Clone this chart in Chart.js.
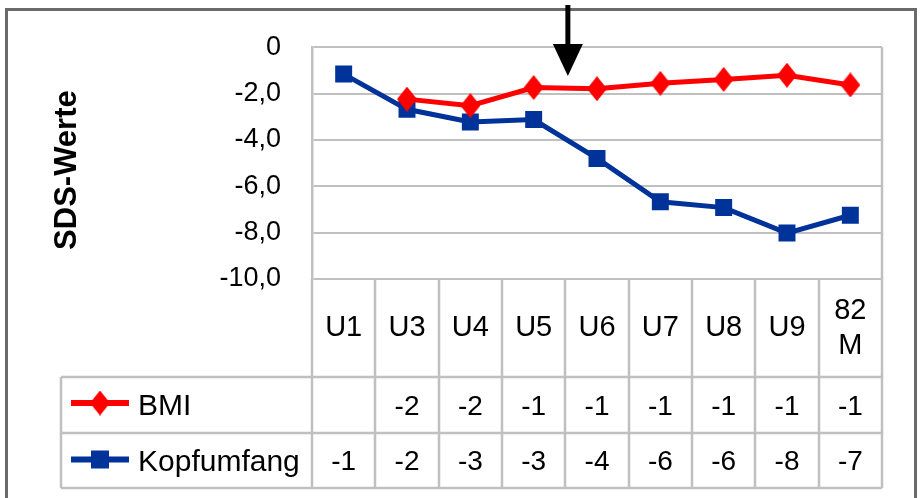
<!DOCTYPE html>
<html>
<head>
<meta charset="utf-8">
<script src="https://cdn.jsdelivr.net/npm/chart.js@4"></script>
<style>
  html, body { margin: 0; padding: 0; background: #fff; }
  canvas { display: block; }
</style>
</head>
<body>
<canvas id="chart" width="921" height="498"></canvas>
<script>
// data
const labels = ['U1', 'U3', 'U4', 'U5', 'U6', 'U7', 'U8', 'U9', ['82', 'M']];
const bmi  = [null, -2.24, -2.52, -1.74, -1.79, -1.56, -1.39, -1.21, -1.63];
const kopf = [-1.16, -2.68, -3.23, -3.12, -4.8, -6.67, -6.92, -8.02, -7.25];
// values as printed in the data table under the plot
const bmiTable  = ['', '-2', '-2', '-1', '-1', '-1', '-1', '-1', '-1'];
const kopfTable = ['-1', '-2', '-3', '-3', '-4', '-6', '-6', '-8', '-7'];
const seriesNames = ['BMI', 'Kopfumfang'];
const yTitle = 'SDS-Werte';
const yMin = -10, yMax = 0, yStep = 2;
// arrow annotation: category position (between U5 and U6) and value of its tip
const arrowAt = { x: 3.54, y: -1.5 };

const FONT = '"Liberation Sans", Arial, sans-serif';
const RED = '#ff0000';
const BLUE = '#003399';
const GRID = '#c0c0c0';

// red diamond, a bit taller than wide
function diamond(w, h, color) {
  const c = document.createElement('canvas');
  c.width = w; c.height = h;
  const g = c.getContext('2d');
  g.fillStyle = color;
  g.beginPath();
  g.moveTo(w / 2, 0);
  g.lineTo(w, h / 2);
  g.lineTo(w / 2, h);
  g.lineTo(0, h / 2);
  g.closePath();
  g.fill();
  return c;
}
const bmiMarker = diamond(20, 25, RED);

// grey frame round the whole thing
const framePlugin = {
  id: 'frame',
  beforeDraw(chart) {
    const ctx = chart.ctx;
    ctx.save();
    ctx.fillStyle = '#fff';
    ctx.fillRect(0, 0, chart.width, chart.height);
    ctx.strokeStyle = '#6a6a6a';
    ctx.lineWidth = 3;
    ctx.strokeRect(6.5, 9.5, 909, 600);
    ctx.restore();
  }
};

// axis title, sits a bit lower than the plot centre
const titlePlugin = {
  id: 'ytitle',
  afterDraw(chart) {
    const ctx = chart.ctx;
    const area = chart.chartArea;
    ctx.save();
    ctx.translate(67, (area.top + area.bottom) / 2 + 7);
    ctx.rotate(-Math.PI / 2);
    ctx.fillStyle = '#000';
    ctx.font = 'bold 31px ' + FONT;
    ctx.textAlign = 'center';
    ctx.textBaseline = 'middle';
    ctx.fillText(yTitle, 0, 0);
    ctx.restore();
  }
};

// data table under the plot (header with categories, one row per series)
const tablePlugin = {
  id: 'table',
  afterDraw(chart) {
    const ctx = chart.ctx;
    const x = chart.scales.x;
    const area = chart.chartArea;
    const top = area.bottom;
    const row1 = top + 98;
    const row2 = row1 + 56;
    const bottom = row2 + 55;
    const legLeft = 61;

    ctx.save();
    ctx.strokeStyle = GRID;
    ctx.lineWidth = 2.5;
    ctx.beginPath();
    for (let i = 0; i <= labels.length; i++) {
      const px = Math.round(x.getPixelForValue(i - 0.5));
      ctx.moveTo(px, i === labels.length ? area.top : top);
      ctx.lineTo(px, bottom);
    }
    [row1, row2, bottom].forEach(py => {
      ctx.moveTo(legLeft, py);
      ctx.lineTo(area.right, py);
    });
    ctx.moveTo(legLeft, row1);
    ctx.lineTo(legLeft, bottom);
    ctx.stroke();

    ctx.fillStyle = '#000';
    ctx.textAlign = 'center';
    ctx.textBaseline = 'middle';

    // header
    ctx.font = '29px ' + FONT;
    const hMid = (top + row1) / 2;
    labels.forEach((lab, i) => {
      const px = x.getPixelForValue(i);
      const lines = Array.isArray(lab) ? lab : [lab];
      const lh = 35;
      lines.forEach((t, k) => {
        ctx.fillText(t, px, hMid + (k - (lines.length - 1) / 2) * lh);
      });
    });

    // values
    ctx.font = '28px ' + FONT;
    const r1 = (row1 + row2) / 2 + 2;
    const r2 = (row2 + bottom) / 2 + 2;
    bmiTable.forEach((t, i) => ctx.fillText(t, x.getPixelForValue(i), r1));
    kopfTable.forEach((t, i) => ctx.fillText(t, x.getPixelForValue(i), r2));

    // legend keys
    const keyL = 71, keyR = 129, keyC = 100;
    ctx.lineWidth = 6;
    ctx.strokeStyle = RED;
    ctx.beginPath();
    ctx.moveTo(keyL, r1 - 4); ctx.lineTo(keyR, r1 - 4);
    ctx.stroke();
    ctx.drawImage(bmiMarker, keyC - bmiMarker.width / 2, r1 - 4 - bmiMarker.height / 2);
    ctx.strokeStyle = BLUE;
    ctx.beginPath();
    ctx.moveTo(keyL, r2 - 3); ctx.lineTo(keyR, r2 - 3);
    ctx.stroke();
    ctx.fillStyle = BLUE;
    ctx.fillRect(keyC - 9, r2 - 3 - 9, 18, 18);

    ctx.fillStyle = '#000';
    ctx.textAlign = 'left';
    ctx.font = '30px ' + FONT;
    ctx.fillText(seriesNames[0], 138, r1);
    ctx.fillText(seriesNames[1], 138, r2);
    ctx.restore();
  }
};

// black arrow pointing down between U5 and U6
const arrowPlugin = {
  id: 'arrow',
  afterDraw(chart) {
    const ctx = chart.ctx;
    const px = chart.scales.x.getPixelForValue(arrowAt.x);
    const tip = chart.scales.y.getPixelForValue(arrowAt.y) - 6;
    const headH = 32, headW = 30;
    ctx.save();
    ctx.strokeStyle = '#000';
    ctx.fillStyle = '#000';
    ctx.lineWidth = 5;
    ctx.beginPath();
    ctx.moveTo(px, 5);
    ctx.lineTo(px, tip - headH + 2);
    ctx.stroke();
    ctx.beginPath();
    ctx.moveTo(px - headW / 2, tip - headH);
    ctx.lineTo(px + headW / 2, tip - headH);
    ctx.lineTo(px, tip);
    ctx.closePath();
    ctx.fill();
    ctx.restore();
  }
};

const data = {
  labels: labels,
  datasets: [{
    label: seriesNames[0],
    data: bmi,
    borderColor: RED,
    backgroundColor: RED,
    borderWidth: 5,
    lineTension: 0,
    pointStyle: bmiMarker,
  },
  {
    label: seriesNames[1],
    data: kopf,
    borderColor: BLUE,
    backgroundColor: BLUE,
    borderWidth: 5,
    lineTension: 0,
    pointStyle: 'rect',
    pointRadius: 12,
    pointBorderWidth: 0,
  }]
};

const config = {
  type: 'line',
  data: data,
  plugins: [framePlugin, tablePlugin, titlePlugin, arrowPlugin],
  options: {
    responsive: false,
    animation: false,
    layout: { padding: { top: 44, right: 39, bottom: 219, left: 0 } },
    plugins: {
      legend: { display: false },
      tooltip: { enabled: false }
    },
    scales: {
      x: {
        display: false,
        offset: true
      },
      y: {
        min: yMin,
        max: yMax,
        afterFit: (s) => { s.width = 312; },
        ticks: {
          stepSize: yStep,
          padding: 31,
          color: '#000',
          font: { family: FONT, size: 27 },
          callback: (v) => v === 0 ? '0' : v.toFixed(1).replace('.', ',')
        },
        grid: { color: GRID, lineWidth: 2, drawTicks: false },
        border: { color: GRID, width: 2.5 }
      }
    }
  }
};

const chart = new Chart(document.getElementById('chart'), config);
</script>
</body>
</html>
